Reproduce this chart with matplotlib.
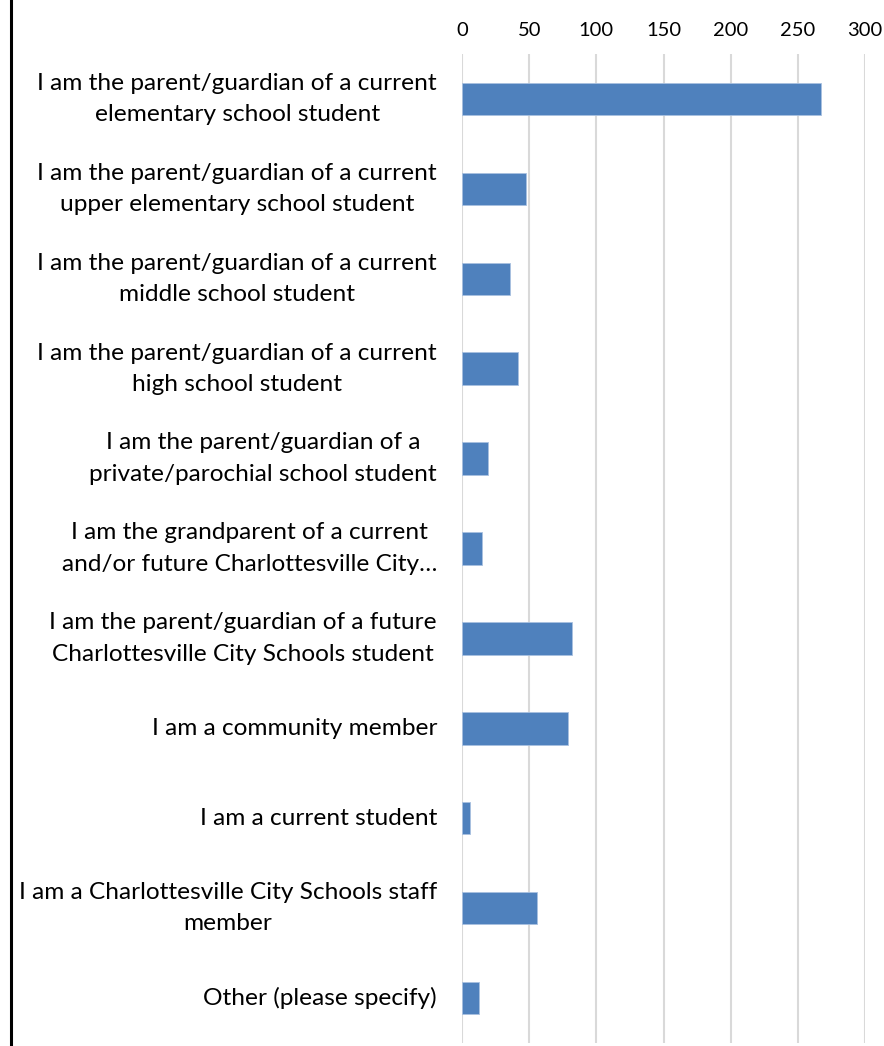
import matplotlib.pyplot as plt
from matplotlib.lines import Line2D

categories = [
    "I am the parent/guardian of a current\nelementary school student",
    "I am the parent/guardian of a current\nupper elementary school student",
    "I am the parent/guardian of a current\nmiddle school student",
    "I am the parent/guardian of a current\nhigh school student",
    "I am the parent/guardian of a\nprivate/parochial school student",
    "I am the grandparent of a current\nand/or future Charlottesville City\u2026",
    "I am the parent/guardian of a future\nCharlottesville City Schools student",
    "I am a community member",
    "I am a current student",
    "I am a Charlottesville City Schools staff\nmember",
    "Other (please specify)",
]
values = [267, 48, 36, 42, 19, 15, 82, 79, 6, 56, 13]
xticks = [0, 50, 100, 150, 200, 250, 300]

plt.rcParams['font.family'] = ['Lato', 'DejaVu Sans']

fig = plt.figure(figsize=(8.84, 10.46), dpi=100)
ax = fig.add_axes([462 / 884, 3 / 1046, 403 / 884, 989 / 1046])

pos = list(range(len(categories)))
ax.barh(pos, values, height=0.36, color='#4F81BD', edgecolor='#A9C1E0', linewidth=0.6, zorder=3)

ax.set_xlim(0, 300)
ax.set_ylim(len(categories) - 0.5, -0.5)
ax.set_xticks(xticks)
ax.xaxis.tick_top()
ax.tick_params(axis='x', length=0, pad=11, labelsize=14.5, colors='#000000')
ax.tick_params(axis='y', length=0, pad=18, labelsize=17.6)
ax.set_yticks(pos)
ax.set_yticklabels(categories, multialignment='center', linespacing=1.6)
for lab in ax.get_yticklabels():
    lab.set_verticalalignment('center')

ax.grid(axis='x', color='#D9D9D9', linewidth=1.5, zorder=0)
for s in ax.spines.values():
    s.set_visible(False)

fig.add_artist(Line2D([10.5 / 884, 10.5 / 884], [0, 1], color='black', linewidth=2.2))

fig.savefig('out.png', dpi=100)
